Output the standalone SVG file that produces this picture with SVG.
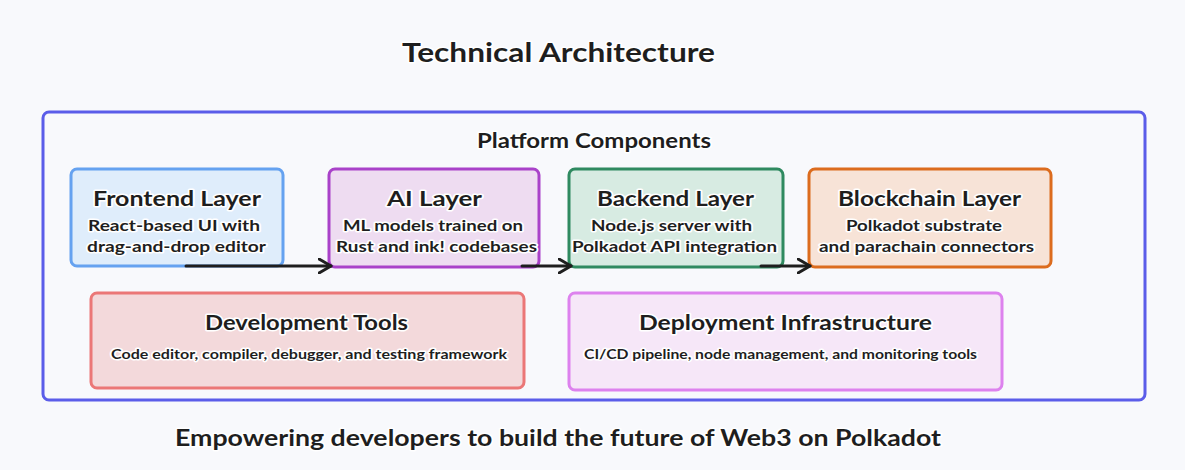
<svg xmlns="http://www.w3.org/2000/svg" width="1185" height="470" viewBox="0 0 1185 470">
<defs>
<style>
text{font-family:"Lato","Open Sans","Liberation Sans",sans-serif;font-weight:700;fill:#1e1e1e;text-anchor:middle;stroke:#ffffff;stroke-width:3;paint-order:stroke;stroke-linejoin:round}
.t{font-size:26px}
.h{font-size:20px}
.s{font-size:15px}
.xs{font-size:13px}
.f{font-size:22px}
.box{stroke-width:3}
.conn{stroke:#1e1e1e;stroke-width:3;fill:none;stroke-linecap:round}
</style>
<marker id="ah" viewBox="0 0 16 16" refX="13" refY="8" markerWidth="16" markerHeight="16" markerUnits="userSpaceOnUse" orient="auto">
<path d="M1 1 L13 8 L1 15" fill="none" stroke="#1e1e1e" stroke-width="3" stroke-linecap="round" stroke-linejoin="round"/>
</marker>
</defs>
<rect width="1185" height="470" fill="#f8f9fc"/>
<text class="t" x="558.5" y="62" textLength="313" lengthAdjust="spacingAndGlyphs">Technical Architecture</text>
<g id="platform">
<rect x="43" y="112" width="1102" height="288" rx="6" fill="#f8f9fc" stroke="#5b5de9" stroke-width="3"/>
<text class="h" x="594" y="148" textLength="234" lengthAdjust="spacingAndGlyphs">Platform Components</text>
</g>
<g id="frontend">
<rect class="box" x="71" y="169" width="212" height="97" rx="6" fill="#dfedfb" stroke="#65a2f0"/>
<text class="h" x="177" y="206" textLength="168" lengthAdjust="spacingAndGlyphs">Frontend Layer</text>
<text class="s" x="174" y="231" textLength="172" lengthAdjust="spacingAndGlyphs">React-based UI with</text>
<text class="s" x="176.5" y="252" textLength="179" lengthAdjust="spacingAndGlyphs">drag-and-drop editor</text>
</g>
<g id="ai">
<rect class="box" x="329" y="169" width="210" height="98" rx="6" fill="#eedcf1" stroke="#a942c9"/>
<text class="h" x="434.5" y="206" textLength="95" lengthAdjust="spacingAndGlyphs">AI Layer</text>
<text class="s" x="433" y="231" textLength="180" lengthAdjust="spacingAndGlyphs">ML models trained on</text>
<text class="s" x="436.5" y="252" textLength="201" lengthAdjust="spacingAndGlyphs">Rust and ink! codebases</text>
</g>
<g id="backend">
<rect class="box" x="569" y="169" width="214" height="98" rx="6" fill="#d7ebe2" stroke="#2f8a60"/>
<text class="h" x="675.5" y="206" textLength="157" lengthAdjust="spacingAndGlyphs">Backend Layer</text>
<text class="s" x="671.5" y="231" textLength="161" lengthAdjust="spacingAndGlyphs">Node.js server with</text>
<text class="s" x="674.5" y="252" textLength="205" lengthAdjust="spacingAndGlyphs">Polkadot API integration</text>
</g>
<g id="blockchain">
<rect class="box" x="809" y="169" width="242" height="98" rx="6" fill="#f7e3d7" stroke="#dc6c1e"/>
<text class="h" x="929.5" y="206" textLength="183" lengthAdjust="spacingAndGlyphs">Blockchain Layer</text>
<text class="s" x="924" y="231" textLength="156" lengthAdjust="spacingAndGlyphs">Polkadot substrate</text>
<text class="s" x="926.5" y="252" textLength="215" lengthAdjust="spacingAndGlyphs">and parachain connectors</text>
</g>
<g id="devtools">
<rect class="box" x="91" y="293" width="433" height="95" rx="6" fill="#f3d9db" stroke="#eb7777"/>
<text class="h" x="306.5" y="330" textLength="203" lengthAdjust="spacingAndGlyphs">Development Tools</text>
<text class="xs" x="309" y="359" textLength="396" lengthAdjust="spacingAndGlyphs">Code editor, compiler, debugger, and testing framework</text>
</g>
<g id="deployment">
<rect class="box" x="569" y="293" width="433" height="97" rx="6" fill="#f6e7f8" stroke="#dd82ee"/>
<text class="h" x="785.5" y="330" textLength="293" lengthAdjust="spacingAndGlyphs">Deployment Infrastructure</text>
<text class="xs" x="780.5" y="359" textLength="393" lengthAdjust="spacingAndGlyphs">CI/CD pipeline, node management, and monitoring tools</text>
</g>
<g id="connectors">
<line class="conn" x1="186" y1="266" x2="331" y2="266" marker-end="url(#ah)"/>
<line class="conn" x1="522" y1="266" x2="571" y2="266" marker-end="url(#ah)"/>
<line class="conn" x1="761" y1="266" x2="810" y2="266" marker-end="url(#ah)"/>
</g>
<text class="f" x="558" y="446" textLength="766" lengthAdjust="spacingAndGlyphs">Empowering developers to build the future of Web3 on Polkadot</text>
</svg>
